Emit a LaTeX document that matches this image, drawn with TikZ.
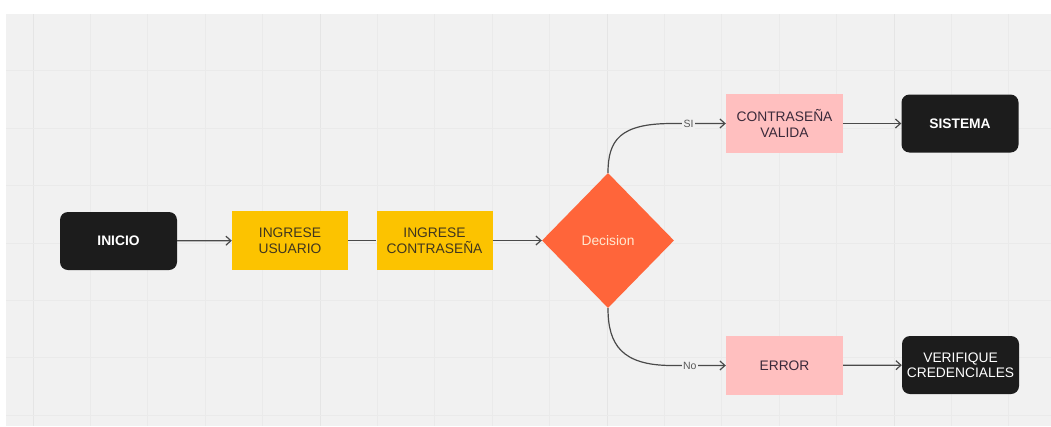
\documentclass[tikz,border=0pt]{standalone}
\usepackage{fontspec}
\setmainfont{Liberation Sans}
\usetikzlibrary{shapes.geometric,arrows.meta}

\definecolor{canvas}{HTML}{F1F1F1}
\definecolor{gridminor}{HTML}{EAEAEA}
\definecolor{gridmajor}{HTML}{E5E5E5}
\definecolor{termfill}{HTML}{1C1C1C}
\definecolor{inputfill}{HTML}{FCC300}
\definecolor{inputtext}{HTML}{40361F}
\definecolor{resultfill}{HTML}{FFBFBF}
\definecolor{resulttext}{HTML}{3A2A3A}
\definecolor{decfill}{HTML}{FF653A}
\definecolor{dectext}{HTML}{FFE8D0}
\definecolor{link}{HTML}{4A4A4A}
\definecolor{linktext}{HTML}{5A5A5A}

\begin{document}
\begin{tikzpicture}[x=1pt,y=-1pt,
  base/.style={font=\fontsize{13.8}{15.5}\selectfont, align=center, inner sep=0pt},
  terminal/.style={base, fill=termfill, text=white, rounded corners=8pt,
    minimum width=117pt, minimum height=58pt},
  inputbox/.style={base, fill=inputfill, text=inputtext,
    minimum width=116pt, minimum height=59pt},
  resultbox/.style={base, fill=resultfill, text=resulttext,
    minimum width=117pt, minimum height=59pt},
  decision/.style={base, diamond, fill=decfill, text=dectext,
    minimum width=132pt, minimum height=135pt},
  flow/.style={draw=link, line width=1.2pt, -{Straight Barb[length=5pt,width=9pt]}},
  plainlink/.style={draw=link, line width=1.2pt},
  tag/.style={font=\fontsize{10.5}{12}\selectfont, text=linktext, fill=canvas, inner sep=1.5pt}
]
% page and board
\useasboundingbox (0,0) rectangle (1051,426);
\fill[white] (0,0) rectangle (1051,426);
\fill[canvas] (6,14) rectangle (1051,426);

% board grid
\foreach \i in {0,...,17} {
  \pgfmathtruncatemacro{\m}{mod(\i,5)}
  \ifnum\m=0
    \draw[gridmajor, line width=1pt] ({33+57.4*\i},14) -- ({33+57.4*\i},426);
  \else
    \draw[gridminor, line width=1pt] ({33+57.4*\i},14) -- ({33+57.4*\i},426);
  \fi
}
\foreach \j in {0,...,6} {
  \draw[gridminor, line width=1pt] (6,{70.8+57.4*\j}) -- (1051,{70.8+57.4*\j});
}

% steps
\node[terminal] (inicio) at (118.5,241) {\textbf{INICIO}};
\node[inputbox] (usuario) at (290,240.5) {INGRESE\\USUARIO};
\node[inputbox] (clave) at (434.5,240.5) {INGRESE\\CONTRASEÑA};
\node[decision] (dec) at (608,240.5) {Decision};
\node[resultbox] (valida) at (784.5,123.5) {CONTRASEÑA\\VALIDA};
\node[terminal] (sistema) at (960,123.5) {\textbf{SISTEMA}};
\node[resultbox] (error) at (784.5,365.5) {ERROR};
\node[terminal] (verif) at (960.5,365) {VERIFIQUE\\CREDENCIALES};

% bend points of the two branches
\coordinate (siturn) at (672,123.5);
\coordinate (noturn) at (672,365.5);

% connectors
\draw[flow] (inicio) -- (usuario);
\draw[plainlink] (usuario) -- (clave);
\draw[flow] (clave) -- (dec);
\draw[flow] (dec.north) .. controls (608,140) and (620,123.5) .. (siturn)
  -- node[tag, pos=0.31] {SI} (valida.west);
\draw[flow] (dec.south) .. controls (608,345) and (622,365.5) .. (noturn)
  -- node[tag, pos=0.33] {No} (error.west);
\draw[flow] (valida) -- (sistema);
\draw[flow] (error) -- (verif);
\end{tikzpicture}
\end{document}
